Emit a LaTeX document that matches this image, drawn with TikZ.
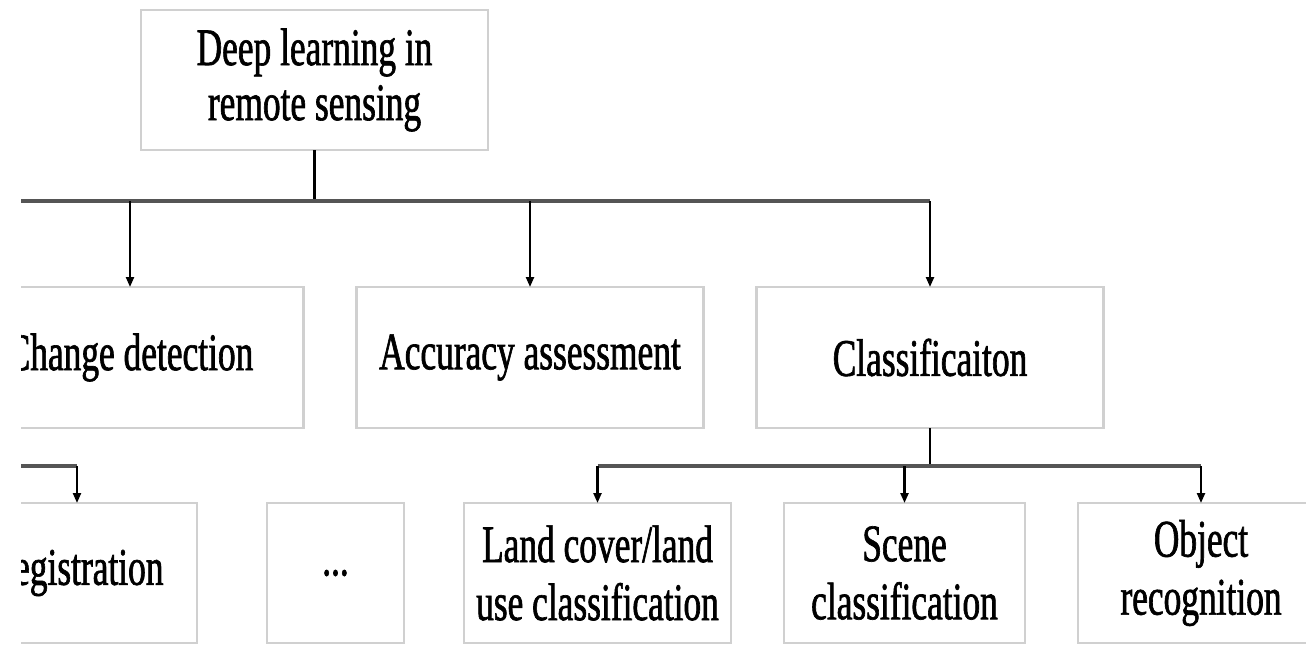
\documentclass[tikz,border=0pt]{standalone}
\usepackage{fontspec}
\setmainfont{Liberation Serif}[FakeStretch=0.67,FakeBold=1.2]
\usetikzlibrary{arrows.meta}
\definecolor{boxline}{RGB}{208,208,208}
\definecolor{busline}{RGB}{85,85,85}
\begin{document}
\begin{tikzpicture}[x=0.5pt,y=-0.5pt,
  box/.style={draw=boxline, line width=1.4pt, fill=white, inner sep=0pt,
    outer sep=0pt, align=center, font=\fontsize{26.4}{27.5}\selectfont},
  wide/.style={box, minimum width=173.5pt, minimum height=70.5pt},
  leaf/.style={box, minimum height=70pt, minimum width=#1,
    font=\fontsize{26.4}{29}\selectfont},
  bus/.style={draw=busline, line width=1.8pt},
  stem/.style={draw=black, line width=1.1pt},
  feed/.style={stem, -{Triangle[width=4pt,length=5pt]}},
]
\useasboundingbox (0,0) rectangle (1306,644);
\clip (21,0) rectangle (1306,644);

% top level
\node[wide, minimum height=70pt] (root) at (314.5,80) {Deep learning in\\remote sensing};

% second level
\node[wide] (cd)  at (130,357.5) {Change detection};
\node[wide] (acc) at (530,357.5) {Accuracy assessment};
\node[wide] (cls) at (930,357.5) {Classificaiton};

% third level
\node[leaf=120pt]   (reg)   at (77,573)    {Registration};
\node[leaf=68.5pt]  (more)  at (335.5,573) {...};
\node[leaf=133.5pt] (land)  at (597.5,573) {Land cover/land\\use classification};
\node[leaf=120.5pt] (scene) at (904.5,573) {Scene\\classification};
\node[leaf=123pt]   (obj)   at (1201,573)  {Object\\recognition};

% first bus: root to the second level
\coordinate (bus1)  at (314.5,201);
\coordinate (west1) at (-100,201);
\draw[stem] (root.south) -- (bus1);
\draw[bus] (west1) -- (bus1 -| cls.north);
\draw[feed] (bus1 -| cd.north)  -- (cd.north);
\draw[feed] (bus1 -| acc.north) -- (acc.north);
\draw[feed] (bus1 -| cls.north) -- (cls.north);

% second bus: classification to its three kinds
\coordinate (bus2) at (930,466);
\draw[stem] (cls.south) -- (bus2);
\draw[bus] (bus2 -| land.north) -- (bus2 -| obj.north);
\draw[feed] (bus2 -| land.north)  -- (land.north);
\draw[feed] (bus2 -| scene.north) -- (scene.north);
\draw[feed] (bus2 -| obj.north)   -- (obj.north);

% branch arriving from the left into registration
\coordinate (west2) at (-100,466);
\draw[bus] (west2) -- (west2 -| reg.north);
\draw[feed] (west2 -| reg.north) -- (reg.north);
\end{tikzpicture}
\end{document}
